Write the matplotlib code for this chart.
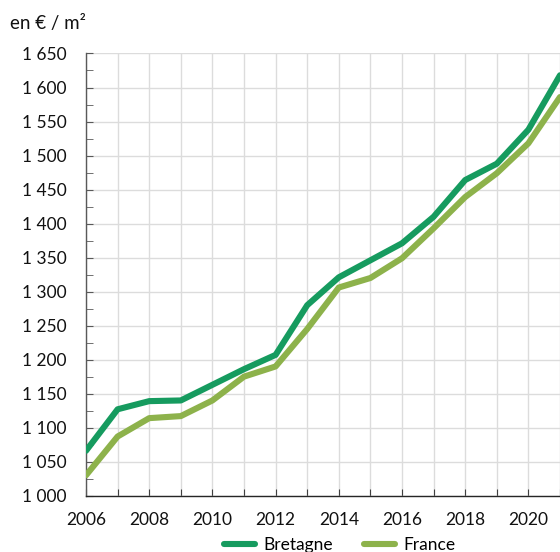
import matplotlib
matplotlib.use("Agg")
import matplotlib.pyplot as plt
from matplotlib.ticker import MultipleLocator, FuncFormatter

years = list(range(2006, 2022))
bretagne = [1066, 1127, 1139, 1140, 1163, 1186, 1207, 1280, 1321, 1346, 1371,
            1410, 1464, 1488, 1538, 1618]
france = [1030, 1087, 1114, 1117, 1140, 1175, 1190, 1245, 1306, 1320, 1349,
          1393, 1439, 1474, 1518, 1586]
series_names = ["Bretagne", "France"]
unit_label = "en € / m²"

plt.rcParams['font.family'] = ['Lato', 'DejaVu Sans']

fig = plt.figure(figsize=(5.6, 5.52), dpi=100)
ax = fig.add_axes([0.1536, 0.102, 1.0 - 0.1536, 0.9031 - 0.102])

ax.plot(years, bretagne, color="#169B5F", lw=4.4, solid_capstyle="round",
        solid_joinstyle="round", label=series_names[0], zorder=3)
ax.plot(years, france, color="#8DB24B", lw=4.4, solid_capstyle="round",
        solid_joinstyle="round", label=series_names[1], zorder=3)

ax.set_xlim(2006, 2021)
ax.set_ylim(1000, 1650)
ax.xaxis.set_major_locator(MultipleLocator(1))
ax.xaxis.set_major_formatter(FuncFormatter(lambda v, p: f"{int(v)}" if int(v) % 2 == 0 else ""))
ax.yaxis.set_major_locator(MultipleLocator(50))
ax.yaxis.set_minor_locator(MultipleLocator(25))
ax.yaxis.set_major_formatter(FuncFormatter(lambda v, p: f"{int(v):,}".replace(",", " ")))

ax.grid(True, which="major", color="#dcdcdc", lw=1.0, zorder=0)
ax.set_axisbelow(True)
for s in ["top", "right"]:
    ax.spines[s].set_visible(False)
ax.spines["left"].set_color("#595959")
ax.spines["bottom"].set_color("#262626")
ax.spines["left"].set_linewidth(1.0)
ax.spines["bottom"].set_linewidth(1.0)

ax.tick_params(axis="y", which="major", direction="in", length=5, color="#595959",
               labelsize=12.5, pad=14, labelcolor="#111111")
ax.tick_params(axis="y", which="minor", direction="in", length=5, color="#595959")
ax.tick_params(axis="x", which="major", direction="in", length=5, color="#404040",
               labelsize=12.5, pad=12, labelcolor="#111111")

fig.text(0.018, 0.958, unit_label, fontsize=13.5, va="center", ha="left", color="#111111")

fig.legend(loc="center", bbox_to_anchor=(0.607, 0.012), ncol=2, frameon=False,
           fontsize=12.5, handlelength=1.75, columnspacing=1.8, handletextpad=0.5)

fig.savefig("out.png", dpi=100)
